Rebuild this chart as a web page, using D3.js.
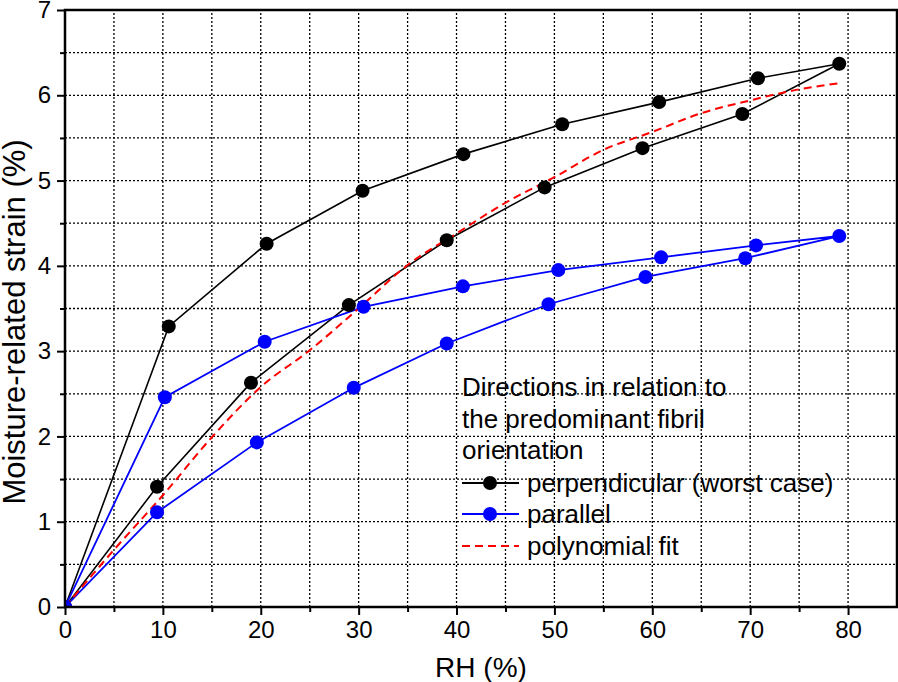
<!DOCTYPE html>
<html>
<head>
<meta charset="utf-8">
<script src="https://cdn.jsdelivr.net/npm/d3@7"></script>
<style>
  html, body { margin: 0; padding: 0; background: #fff; }
  svg { display: block; font-family: "Liberation Sans", Arial, sans-serif; }
</style>
</head>
<body>
<div id="chart"></div>
<script>
// ---- data ----
const perpRH     = [0, 9.4, 19.0, 29.0, 39.0, 49.0, 59.0, 69.2, 79.1, 70.8, 60.7, 50.8, 40.7, 30.4, 20.6, 10.6, 0];
const perpStrain = [0, 1.41, 2.63, 3.54, 4.30, 4.92, 5.38, 5.78, 6.37, 6.20, 5.92, 5.66, 5.31, 4.88, 4.26, 3.29, 0];
const paraRH     = [0, 9.4, 19.6, 29.5, 39.0, 49.4, 59.3, 69.5, 79.1, 70.6, 60.9, 50.4, 40.65, 30.5, 20.4, 10.2, 0];
const paraStrain = [0, 1.11, 1.93, 2.57, 3.09, 3.55, 3.87, 4.09, 4.35, 4.24, 4.10, 3.95, 3.76, 3.52, 3.11, 2.46, 0];
const fitRH      = [0, 5, 10, 15, 20, 25, 30, 35, 40, 45, 50, 55, 60, 65, 70, 75, 79];
const fitStrain  = [0, 0.67, 1.31, 1.99, 2.58, 3.01, 3.50, 4.01, 4.38, 4.74, 5.04, 5.36, 5.57, 5.79, 5.94, 6.07, 6.14];
const xTicks = [0, 10, 20, 30, 40, 50, 60, 70, 80];
const yTicks = [0, 1, 2, 3, 4, 5, 6, 7];
const legendTitle = ["Directions in relation to", "the predominant fibril", "orientation"];
const legendLabels = ["perpendicular (worst case)", "parallel", "polynomial fit"];

// ---- layout ----
const W = 898, H = 682;
const m = { left: 65, top: 10, right: 1, bottom: 75 };
const x = d3.scaleLinear().domain([0, 85]).range([m.left, W - m.right]);
const y = d3.scaleLinear().domain([0, 7]).range([H - m.bottom, m.top]);

const svg = d3.select("#chart").append("svg").attr("width", W).attr("height", H);

svg.append("defs").append("clipPath").attr("id", "plotclip")
  .append("rect").attr("x", x(0)).attr("y", y(7)).attr("width", x(85) - x(0)).attr("height", y(0) - y(7));

// grid
const gridX = d3.range(5, 85, 5);
const gridY = d3.range(0.5, 7, 0.5);
const grid = svg.append("g").attr("stroke", "#000").attr("stroke-width", 1.3).attr("stroke-dasharray", "2,2");
grid.selectAll(".gx").data(gridX).join("line")
  .attr("x1", d => x(d)).attr("x2", d => x(d)).attr("y1", y(0)).attr("y2", y(7));
grid.selectAll(".gy").data(gridY).join("line")
  .attr("y1", d => y(d)).attr("y2", d => y(d)).attr("x1", x(0)).attr("x2", x(85));

// series
const plot = svg.append("g").attr("clip-path", "url(#plotclip)");
const lineGen = d3.line().x(d => x(d[0])).y(d => y(d[1]));
const perp = perpRH.map((v, i) => [v, perpStrain[i]]);
const para = paraRH.map((v, i) => [v, paraStrain[i]]);
const fit = fitRH.map((v, i) => [v, fitStrain[i]]);

plot.append("path").datum(perp).attr("d", lineGen).attr("fill", "none").attr("stroke", "#000").attr("stroke-width", 1.6);
plot.append("path").datum(para).attr("d", lineGen).attr("fill", "none").attr("stroke", "#0000ff").attr("stroke-width", 1.8);
plot.append("path").datum(fit).attr("d", d3.line().curve(d3.curveMonotoneX).x(d => x(d[0])).y(d => y(d[1])))
  .attr("fill", "none").attr("stroke", "#ff0000").attr("stroke-width", 2).attr("stroke-dasharray", "8,5");

plot.selectAll(".pp").data(perp).join("circle")
  .attr("cx", d => x(d[0])).attr("cy", d => y(d[1])).attr("r", 7).attr("fill", "#000");
plot.selectAll(".pa").data(para).join("circle")
  .attr("cx", d => x(d[0])).attr("cy", d => y(d[1])).attr("r", 7).attr("fill", "#0000ff");

// axes
const fmt = d3.format("d");
const xAxis = d3.axisBottom(x).tickValues(xTicks).tickFormat(fmt).tickSize(8).tickSizeOuter(0).tickPadding(6);
const xMinor = d3.axisBottom(x).tickValues(d3.range(5, 85, 10)).tickSize(5).tickFormat("").tickSizeOuter(0);
const yAxis = d3.axisLeft(y).tickValues(yTicks).tickFormat(fmt).tickSize(8).tickSizeOuter(0).tickPadding(6);
const yMinor = d3.axisLeft(y).tickValues(d3.range(0.5, 7, 1)).tickSize(5).tickFormat("").tickSizeOuter(0);

function styleAxis(g) {
  g.select(".domain").remove();
  g.selectAll(".tick line").attr("stroke", "#000").attr("stroke-width", 2);
  g.selectAll(".tick text").attr("fill", "#000").style("font-size", "24px").style("font-family", "Liberation Sans, Arial, sans-serif");
}
svg.append("g").attr("transform", `translate(0,${y(0)})`).call(xAxis).call(styleAxis);
svg.append("g").attr("transform", `translate(0,${y(0)})`).call(xMinor).call(styleAxis);
svg.append("g").attr("transform", `translate(${x(0)},0)`).call(yAxis).call(styleAxis);
svg.append("g").attr("transform", `translate(${x(0)},0)`).call(yMinor).call(styleAxis);

// frame
svg.append("rect").attr("x", x(0)).attr("y", y(7)).attr("width", x(85) - x(0)).attr("height", y(0) - y(7))
  .attr("fill", "none").attr("stroke", "#000").attr("stroke-width", 2.5);

// axis titles
svg.append("text").attr("x", (x(0) + x(85)) / 2).attr("y", 677).attr("text-anchor", "middle")
  .style("font-size", "28px").text("RH (%)");
svg.append("text").attr("transform", `translate(25,${322}) rotate(-90)`).attr("text-anchor", "middle")
  .style("font-size", "31px").text("Moisture-related strain (%)");

// legend
const lg = svg.append("g");
const lx = 462;
legendTitle.forEach((t, i) => {
  lg.append("text").attr("x", lx).attr("y", 396 + i * 31.5).style("font-size", "26px").text(t);
});
const entryY = [492, 523, 555];
const colors = ["#000", "#0000ff", "#ff0000"];
legendLabels.forEach((t, i) => {
  const cy = entryY[i] - 9;
  const ln = lg.append("line").attr("x1", lx).attr("x2", lx + 57).attr("y1", cy).attr("y2", cy)
    .attr("stroke", colors[i]).attr("stroke-width", i === 2 ? 2 : 1.8);
  if (i === 2) ln.attr("stroke-dasharray", "8,5");
  else lg.append("circle").attr("cx", lx + 28).attr("cy", cy).attr("r", 7).attr("fill", colors[i]);
  lg.append("text").attr("x", lx + 65).attr("y", entryY[i]).style("font-size", "26px").text(t);
});
</script>
</body>
</html>
